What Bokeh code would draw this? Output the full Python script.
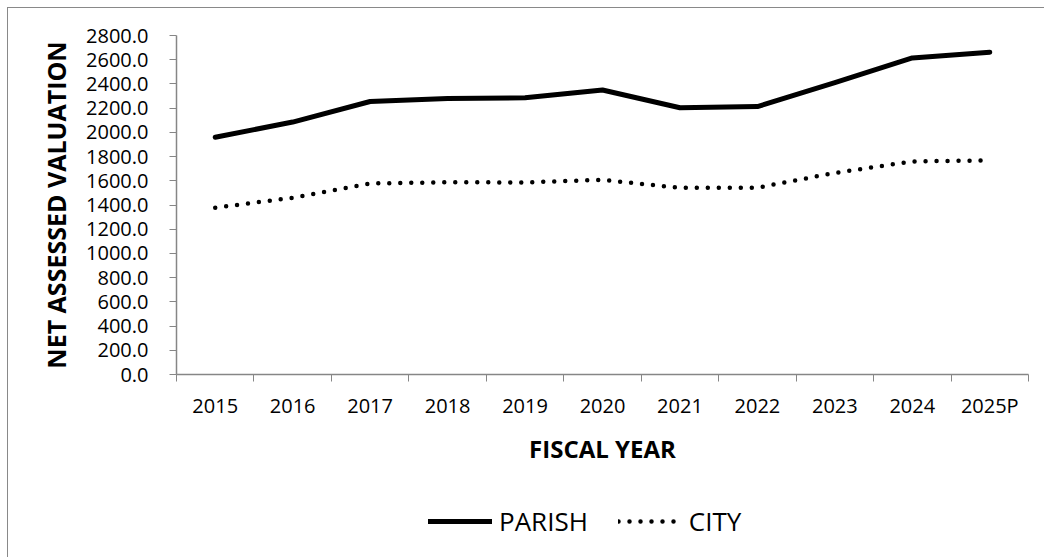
from bokeh.plotting import figure
from bokeh.layouts import column
from bokeh.models import FixedTicker, Legend, LegendItem, Range1d, NumeralTickFormatter
from bokeh.embed import file_html
from bokeh.resources import INLINE

years = ["2015", "2016", "2017", "2018", "2019", "2020", "2021", "2022", "2023", "2024", "2025P"]
parish = [1960, 2085, 2255, 2280, 2285, 2350, 2203, 2213, 2410, 2615, 2662]
city = [1377, 1460, 1578, 1588, 1586, 1608, 1542, 1543, 1665, 1760, 1768]
y_ticks = list(range(0, 2801, 200))

FONT = "Open Sans"
GRAY = "#868686"

xs = [i + 0.5 for i in range(len(years))]

PARISH_STYLE = dict(line_width=5, line_color="black", line_join="round", line_cap="round")
CITY_STYLE = dict(line_width=4.5, line_color="black", line_dash="0 11", line_cap="round", line_join="round")

p = figure(width=1036, height=472, output_backend="svg", toolbar_location=None,
           x_range=Range1d(0, len(years)), y_range=Range1d(0, 2800),
           min_border_left=168, min_border_right=16, min_border_top=27, min_border_bottom=106)
p.outline_line_color = None
p.xgrid.visible = False
p.ygrid.visible = False

p.line(xs, parish, **PARISH_STYLE)
p.line(xs, city, **CITY_STYLE)

xa = p.xaxis[0]
xa.ticker = FixedTicker(ticks=xs, minor_ticks=list(range(len(years) + 1)))
xa.major_label_overrides = {x: y for x, y in zip(xs, years)}
xa.major_tick_out = 0
xa.major_tick_in = 0
xa.minor_tick_out = 7
xa.minor_tick_in = 0
xa.minor_tick_line_color = GRAY
xa.axis_line_color = GRAY
xa.axis_line_width = 1.5
xa.major_label_text_font = FONT
xa.major_label_text_font_size = "20px"
xa.major_label_text_color = "black"
xa.major_label_standoff = 10
xa.axis_label = "FISCAL YEAR"
xa.axis_label_text_font = FONT
xa.axis_label_text_font_style = "bold"
xa.axis_label_text_font_size = "24px"
xa.axis_label_text_color = "black"
xa.axis_label_standoff = 10

ya = p.yaxis[0]
ya.ticker = FixedTicker(ticks=y_ticks, minor_ticks=[])
ya.formatter = NumeralTickFormatter(format="0.0")
ya.major_tick_out = 7
ya.major_tick_in = 0
ya.major_tick_line_color = GRAY
ya.axis_line_color = GRAY
ya.axis_line_width = 1.5
ya.major_label_text_font = FONT
ya.major_label_text_font_size = "20px"
ya.major_label_text_color = "black"
ya.major_label_standoff = 21
ya.axis_label = "NET ASSESSED VALUATION"
ya.axis_label_text_font = FONT
ya.axis_label_text_font_style = "bold"
ya.axis_label_text_font_size = "25px"
ya.axis_label_text_color = "black"
ya.axis_label_standoff = 10

# legend strip below the chart (its lines lie outside its visible range; only the legend shows)
lg = figure(width=1036, height=77, output_backend="svg", toolbar_location=None,
            x_range=Range1d(0, len(years)), y_range=Range1d(-2, -1),
            x_axis_type=None, y_axis_type=None,
            min_border_left=0, min_border_right=0, min_border_top=0, min_border_bottom=0)
lg.outline_line_color = None
lg.xgrid.visible = False
lg.ygrid.visible = False
r_parish = lg.line(xs, parish, **PARISH_STYLE)
r_city = lg.line(xs, city, **CITY_STYLE)

legend = Legend(items=[LegendItem(label="PARISH", renderers=[r_parish]),
                       LegendItem(label="CITY", renderers=[r_city])],
                orientation="horizontal", location=(252, 18),
                glyph_width=64, glyph_height=24, label_standoff=7, spacing=30,
                padding=0, margin=0, border_line_color=None, background_fill_alpha=0,
                label_text_font=FONT, label_text_font_size="26px", label_text_color="black",
                label_height=24)
lg.add_layout(legend)

layout = column(p, lg, spacing=0)
layout.styles = {"margin-left": "7px", "margin-top": "7px",
                 "border-top": "1px solid #898989", "border-left": "1px solid #898989"}

open("out.html", "w").write(file_html(layout, INLINE))
